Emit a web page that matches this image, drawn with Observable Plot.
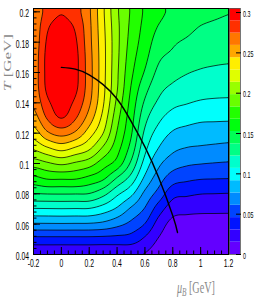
<!DOCTYPE html>
<html><head><meta charset="utf-8">
<script src="https://cdn.jsdelivr.net/npm/d3@7"></script>
<script src="https://cdn.jsdelivr.net/npm/@observablehq/plot@0.6"></script>
<style>
body{margin:0;background:#fff;}
#chart{position:relative;width:259px;height:300px;overflow:hidden;background:#fff;}
#chart svg{position:absolute;left:0;top:0;}
</style></head><body><div id="chart"></div>
<script>
// grid axes
const muGrid = [-0.2, -0.1, 0, 0.1, 0.2, 0.3, 0.4, 0.5, 0.6, 0.7, 0.8, 0.9, 1.0, 1.1, 1.2];
const tGrid = [0.20, 0.19, 0.18, 0.17, 0.16, 0.15, 0.14, 0.13, 0.12, 0.11, 0.10, 0.09, 0.08, 0.07, 0.06, 0.05, 0.04];
// values, one row per temperature (mu = -0.2 ... 1.2)
const z_T200 = [0.2615, 0.281, 0.289, 0.281, 0.2615, 0.2311, 0.2008, 0.1814, 0.1656, 0.1565, 0.149, 0.1455, 0.1425, 0.1398, 0.1378];
const z_T190 = [0.263, 0.2879, 0.2945, 0.2879, 0.263, 0.2324, 0.2023, 0.1797, 0.1634, 0.1514, 0.1445, 0.141, 0.1367, 0.1346, 0.1333];
const z_T180 = [0.264, 0.292, 0.299, 0.292, 0.264, 0.2337, 0.2026, 0.1775, 0.1606, 0.1455, 0.1391, 0.1353, 0.1315, 0.1298, 0.1288];
const z_T170 = [0.2655, 0.2944, 0.302, 0.2944, 0.2655, 0.2342, 0.202, 0.1747, 0.1567, 0.1396, 0.1342, 0.129, 0.1262, 0.125, 0.1243];
const z_T160 = [0.266, 0.2945, 0.303, 0.2945, 0.266, 0.2341, 0.2008, 0.1714, 0.151, 0.1333, 0.1271, 0.1228, 0.1205, 0.1193, 0.1186];
const z_T150 = [0.2658, 0.2932, 0.301, 0.2932, 0.2658, 0.2332, 0.1995, 0.1671, 0.1429, 0.1266, 0.1194, 0.1153, 0.113, 0.1121, 0.1117];
const z_T140 = [0.262, 0.2864, 0.297, 0.2864, 0.262, 0.2305, 0.1945, 0.1629, 0.1349, 0.1192, 0.1106, 0.1075, 0.1051, 0.1042, 0.1039];
const z_T130 = [0.2522, 0.2761, 0.290, 0.2761, 0.2522, 0.2237, 0.1882, 0.1588, 0.1269, 0.11, 0.1005, 0.097, 0.0944, 0.094, 0.0937];
const z_T120 = [0.2359, 0.2565, 0.2648, 0.2565, 0.2359, 0.2135, 0.1817, 0.1546, 0.1189, 0.1005, 0.0898, 0.0862, 0.0845, 0.0838, 0.0832];
const z_T110 = [0.2159, 0.2264, 0.2339, 0.2264, 0.2159, 0.1955, 0.1735, 0.1469, 0.1108, 0.0908, 0.0797, 0.0756, 0.0743, 0.0731, 0.072];
const z_T100 = [0.1896, 0.1959, 0.2008, 0.1959, 0.1896, 0.1749, 0.1615, 0.1345, 0.1008, 0.0793, 0.0679, 0.0632, 0.0615, 0.0604, 0.0596];
const z_T090 = [0.1628, 0.1687, 0.169, 0.1687, 0.1628, 0.1546, 0.1352, 0.116, 0.088, 0.0678, 0.0528, 0.0487, 0.0465, 0.046, 0.0457];
const z_T080 = [0.1366, 0.1376, 0.1378, 0.1376, 0.1366, 0.1266, 0.1097, 0.0952, 0.0724, 0.0548, 0.0356, 0.0329, 0.0308, 0.0304, 0.030];
const z_T070 = [0.1055, 0.1058, 0.1061, 0.1058, 0.1055, 0.0991, 0.089, 0.0738, 0.0596, 0.0377, 0.0222, 0.020, 0.0189, 0.0187, 0.0185];
const z_T060 = [0.0743, 0.0745, 0.0747, 0.0745, 0.0743, 0.0719, 0.0654, 0.0568, 0.045, 0.0238, 0.0104, 0.0085, 0.008, 0.008, 0.008];
const z_T050 = [0.0405, 0.0405, 0.0405, 0.0405, 0.0405, 0.040, 0.0395, 0.0382, 0.0276, 0.014, 0.007, 0.005, 0.0045, 0.004, 0.004];
const z_T040 = [0.018, 0.018, 0.018, 0.018, 0.018, 0.0175, 0.0175, 0.017, 0.0145, 0.008, 0.004, 0.002, 0.0015, 0.0012, 0.001];

// contour levels (20 bands) and palette
const levels = [0.01525, 0.0305, 0.04575, 0.061, 0.07625, 0.0915, 0.10675, 0.122, 0.13725, 0.1525,
                0.16775, 0.183, 0.19825, 0.2135, 0.22875, 0.244, 0.25925, 0.2745, 0.28975];
const zMax = 0.305;
const palette = ["#6300ff", "#3300ff", "#0014ff", "#0044ff", "#008bff", "#00bbff", "#00fffc", "#00ffcc", "#00ff85", "#00ff55",
                 "#00ff0e", "#22ff00", "#69ff00", "#99ff00", "#e0ff00", "#ffee00", "#ffa700", "#ff7700", "#ff3000", "#ff0000"];

// freeze-out curve
const freezeMu = [0, 0.1, 0.2, 0.3, 0.4, 0.5, 0.6, 0.7, 0.8, 0.834];
const freezeT = [0.1634, 0.1622, 0.1585, 0.152, 0.1425, 0.128, 0.111, 0.0905, 0.0655, 0.0545];

// ticks
const xTicks = [-0.2, 0, 0.2, 0.4, 0.6, 0.8, 1, 1.2];
const xTickLabels = ["-0.2", "0", "0.2", "0.4", "0.6", "0.8", "1", "1.2"];
const yTicks = [0.04, 0.06, 0.08, 0.1, 0.12, 0.14, 0.16, 0.18, 0.2];
const yTickLabels = ["0.04", "0.06", "0.08", "0.1", "0.12", "0.14", "0.16", "0.18", "0.2"];
const cbTicks = [0, 0.05, 0.1, 0.15, 0.2, 0.25, 0.3];
const cbTickLabels = ["0", "0.05", "0.1", "0.15", "0.2", "0.25", "0.3"];

const W = 259, H = 300, mL = 33, mR = 31, mT = 8, mB = 46;
const pw = W - mL - mR, ph = H - mT - mB;
const xDomain = [-0.2, 1.2], yDomain = [0.04, 0.2022];
const xMinor = d3.ticks(-0.2, 1.2, 28).filter(v => v >= -0.2 && v <= 1.2);
const yMinor = d3.range(0.04, 0.2021, 0.004);

const rows = [z_T200, z_T190, z_T180, z_T170, z_T160, z_T150, z_T140, z_T130, z_T120,
              z_T110, z_T100, z_T090, z_T080, z_T070, z_T060, z_T050, z_T040];
const points = [];
rows.forEach((row, r) => row.forEach((z, c) => points.push({mu: muGrid[c], T: tGrid[r], z})));

// smooth (Catmull-Rom) resampling of the regular grid for Plot's contour
function gridSpline(nCols, nRows) {
  return (index, w, h, X, Y, V) => {
    const ix0 = X[0], dx = X[1] - X[0], iy0 = Y[0], dy = Y[nCols] - Y[0];
    const G = (r, c) => V[Math.max(0, Math.min(nRows - 1, r)) * nCols + Math.max(0, Math.min(nCols - 1, c))];
    const cr = (p0, p1, p2, p3, t) => 0.5 * (2 * p1 + (-p0 + p2) * t + (2 * p0 - 5 * p1 + 4 * p2 - p3) * t * t + (-p0 + 3 * p1 - 3 * p2 + p3) * t * t * t);
    const out = new Float64Array(w * h);
    for (let j = 0; j < h; j++) {
      let v = (j + 0.5 - iy0) / dy; v = Math.max(0, Math.min(nRows - 1, v));
      const r = Math.min(nRows - 2, Math.floor(v)), tv = v - r;
      for (let i = 0; i < w; i++) {
        let u = (i + 0.5 - ix0) / dx; u = Math.max(0, Math.min(nCols - 1, u));
        const c = Math.min(nCols - 2, Math.floor(u)), tu = u - c;
        const q = [-1, 0, 1, 2].map(k => cr(G(r + k, c - 1), G(r + k, c), G(r + k, c + 1), G(r + k, c + 2), tu));
        out[j * w + i] = cr(q[0], q[1], q[2], q[3], tv);
      }
    }
    return out;
  };
}
const interp = gridSpline(muGrid.length, tGrid.length);
const colorScale = {type: "threshold", domain: levels, range: palette};
const fontSans = "'Liberation Sans', Arial, Helvetica, sans-serif";

const main = Plot.plot({
  width: W, height: H, marginLeft: mL, marginRight: mR, marginTop: mT, marginBottom: mB,
  x: {domain: xDomain, axis: null},
  y: {domain: yDomain, axis: null},
  color: colorScale,
  style: {fontFamily: fontSans, background: "transparent", color: "#000"},
  marks: [
    Plot.contour(points, {x: "mu", y: "T", fill: "z", thresholds: [0, ...levels], interpolate: interp, pixelSize: 1, stroke: "none", clip: true}),
    Plot.contour(points, {x: "mu", y: "T", value: "z", thresholds: levels, interpolate: interp, pixelSize: 1, fill: "none", stroke: "#000", strokeWidth: 0.8, strokeOpacity: 0.9, clip: true}),
    Plot.line(freezeMu.map((m, i) => ({mu: m, T: freezeT[i]})), {x: "mu", y: "T", stroke: "#000", strokeWidth: 1.4, curve: "natural", clip: true}),
    Plot.frame({stroke: "#000", strokeWidth: 1}),
    Plot.tickX(xTicks, {x: d => d, insetTop: ph - 7, stroke: "#000"}),
    Plot.tickX(xMinor, {x: d => d, insetTop: ph - 3.5, stroke: "#000"}),
    Plot.tickY(yTicks, {y: d => d, insetRight: pw - 7, stroke: "#000"}),
    Plot.tickY(yMinor, {y: d => d, insetRight: pw - 3.5, stroke: "#000"}),
    Plot.text(xTicks, {x: d => d, frameAnchor: "bottom", dy: 12.5, text: (d, i) => xTickLabels[i], fontSize: 11, fill: "#000"}),
    Plot.text(yTicks, {y: d => d, frameAnchor: "left", textAnchor: "end", dx: -4.5, dy: 2, text: (d, i) => yTickLabels[i], fontSize: 11, fill: "#000"})
  ]
});

const bandLo = [0, ...levels], bandHi = [...levels, zMax];
const bands = bandLo.map((lo, i) => ({lo, hi: bandHi[i]}));
const cbar = Plot.plot({
  width: W, height: H, marginLeft: 229, marginRight: 19, marginTop: mT, marginBottom: mB,
  x: {domain: [0, 1], axis: null},
  y: {domain: [0, zMax], axis: null},
  color: colorScale,
  style: {fontFamily: fontSans, background: "transparent", color: "#000"},
  marks: [
    Plot.rect(bands, {y1: "lo", y2: "hi", fill: "lo"}),
    Plot.frame({stroke: "#555", strokeWidth: 0.8}),
    Plot.tickY(cbTicks, {y: d => d, insetLeft: 6, dx: 1, stroke: "#000"}),
    Plot.text(cbTicks, {y: d => d, frameAnchor: "right", textAnchor: "start", dx: 2.5, dy: 1, text: (d, i) => cbTickLabels[i], fontSize: 9.5, fill: "#000"})
  ]
});

const host = document.getElementById("chart");
host.appendChild(main);
host.appendChild(cbar);

// horizontally compressed lettering, as in the reference
function squeeze(svg, f) {
  svg.querySelectorAll("text").forEach(t => {
    const b = t.getBBox();
    const anchor = getComputedStyle(t).textAnchor;
    let ax = b.x;
    if (anchor === "end") ax = b.x + b.width; else if (anchor === "middle") ax = b.x + b.width / 2;
    const orig = t.getAttribute("transform") || "";
    t.setAttribute("transform", `${orig} translate(${ax},0) scale(${f},1) translate(${-ax},0)`);
  });
}
squeeze(main, 0.62);
squeeze(cbar, 0.56);

// axis titles (ROOT style, grey)
const sel = d3.select(main);
const yt = sel.append("text")
  .attr("transform", "translate(10.5,62.5) rotate(-90) scale(1,0.6)")
  .attr("text-anchor", "middle")
  .attr("font-family", "'Liberation Serif', 'Times New Roman', serif")
  .attr("font-size", 17).attr("fill", "#8a8a8a");
yt.append("tspan").attr("font-style", "italic").text("T");
yt.append("tspan").text(" [GeV]");
const xt = sel.append("text")
  .attr("transform", "translate(215,293) scale(0.6,1)")
  .attr("text-anchor", "end")
  .attr("font-family", "'Liberation Serif', 'Times New Roman', serif")
  .attr("font-size", 17).attr("fill", "#8a8a8a");
xt.append("tspan").attr("font-style", "italic").text("μ");
xt.append("tspan").attr("font-style", "italic").attr("font-size", 12).attr("dy", 3).text("B");
xt.append("tspan").attr("dy", -3).text(" [GeV]");
</script>
</body></html>
